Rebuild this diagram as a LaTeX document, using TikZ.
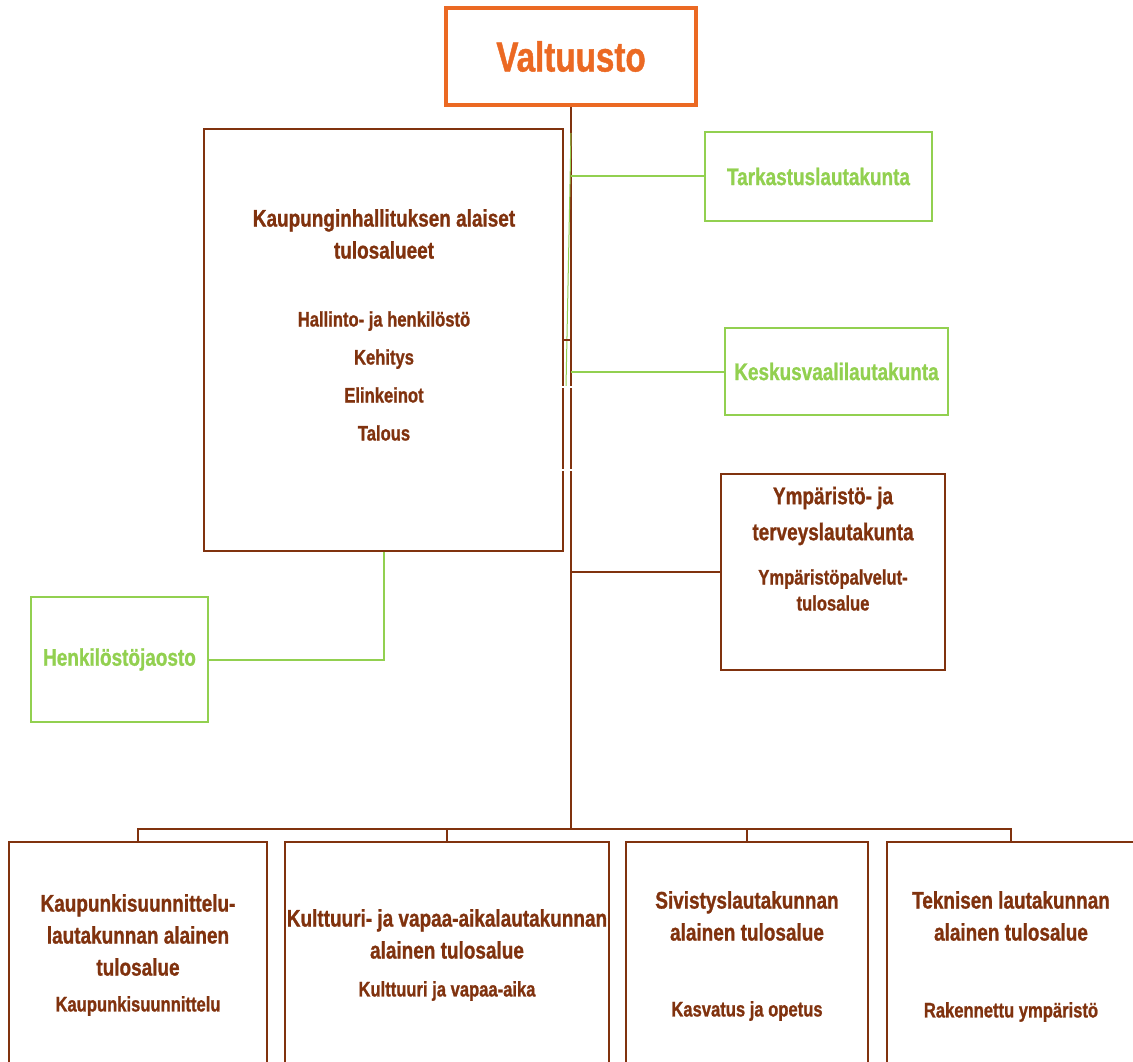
\documentclass[tikz,border=0pt]{standalone}
\usepackage{fontspec}
\setmainfont{Liberation Sans}[FakeStretch=0.79, BoldFeatures={FakeBold=1}]
\usepackage{tikz}
\usetikzlibrary{calc}
\definecolor{ruskea}{RGB}{128,50,14}
\definecolor{oranssi}{RGB}{235,105,35}
\definecolor{vihrea}{RGB}{146,208,80}
\newcommand{\otsikkofont}{\bfseries\fontsize{24}{32}\selectfont}
\newcommand{\alafont}{\bfseries\fontsize{21}{38}\selectfont}

\begin{document}
\begin{tikzpicture}[x=1pt, y=-1pt,
		laatikko/.style={draw=ruskea, line width=2pt, inner sep=0pt},
		vlaatikko/.style={draw=vihrea, line width=2pt, text=vihrea, font=\otsikkofont, inner sep=0pt},
		otsikko/.style={text=ruskea, font=\otsikkofont, align=center, inner sep=0pt},
		alateksti/.style={text=ruskea, font=\alafont, align=center, inner sep=0pt},
		ryhti/.style={ruskea, line width=2pt},
		vyhteys/.style={vihrea, line width=2pt}]
		%%%	Apuviivat
%		\draw [thin, help lines, step=50] (0,0) grid (1133,1062);
		\clip (0,0) rectangle (1133,1062);
		
		%%% Valtuusto
		\node [draw=oranssi, line width=4pt, text=oranssi, minimum width=250, minimum height=97,
			font=\bfseries\fontsize{42}{48}\selectfont] (valt) at (571,56.5) {Valtuusto};
		
		%%% Kaupunginhallitus
		\node [laatikko, minimum width=359, minimum height=422] (kh) at (383.5,340) {};
		\node [otsikko] (khots) at (384,234) {Kaupunginhallituksen alaiset\\tulosalueet};
		\node [alateksti] (khala) at (384,376) {Hallinto- ja henkilöstö\\Kehitys\\Elinkeinot\\Talous};
		\node [vlaatikko, minimum width=177, minimum height=125] (henk) at (119.5,659.5) {Henkilöstöjaosto};
		
		%%% Lautakunnat oikealla
		\node [vlaatikko, minimum width=227, minimum height=89] (tark) at (818.5,176.5) {Tarkastuslautakunta};
		\node [vlaatikko, minimum width=223, minimum height=87] (kesk) at (836.5,371.5) {Keskusvaalilautakunta};
		\node [laatikko, minimum width=224, minimum height=196] (ymp) at (833,572) {};
		\node [otsikko, font=\bfseries\fontsize{24}{36}\selectfont] (ympots) at (833,516) {Ympäristö- ja\\terveyslautakunta};
		\node [alateksti, font=\bfseries\fontsize{21}{26}\selectfont] (ympala) at (833,590) {Ympäristöpalvelut-\\tulosalue};
		
		%%% Alimmat laatikot
		\node [laatikko, minimum width=258, minimum height=238] (b1) at (138,961) {};
		\node [laatikko, minimum width=324, minimum height=238] (b2) at (447,961) {};
		\node [laatikko, minimum width=242, minimum height=238] (b3) at (747,961) {};
		\node [laatikko, minimum width=248, minimum height=238] (b4) at (1011,961) {};
		\node [otsikko] (b1ots) at (138,935) {Kaupunkisuunnittelu-\\lautakunnan alainen\\tulosalue};
		\node [alateksti] (b1ala) at (138,1006) {Kaupunkisuunnittelu};
		\node [otsikko] (b2ots) at (447,934) {Kulttuuri- ja vapaa-aikalautakunnan\\alainen tulosalue};
		\node [alateksti] (b2ala) at (447,991) {Kulttuuri ja vapaa-aika};
		\node [otsikko] (b3ots) at (747,916) {Sivistyslautakunnan\\alainen tulosalue};
		\node [alateksti] (b3ala) at (747,1011) {Kasvatus ja opetus};
		\node [otsikko] (b4ots) at (1011,916) {Teknisen lautakunnan\\alainen tulosalue};
		\node [alateksti] (b4ala) at (1011,1012) {Rakennettu ympäristö};
		
		%%% Yhteydet
		\coordinate (vayla) at (571,829);
		\draw [ryhti] (valt.south) -- (vayla);
		\foreach \b in {b1,b2,b3,b4}
			\draw [ryhti] (vayla) -| (\b.north);
		\draw [vyhteys] (valt.south |- tark.west) -- (tark.west);
		\draw [vyhteys] (valt.south |- kesk.west) -- (kesk.west);
		\draw [ryhti] (valt.south |- ymp.west) -- (ymp.west);
		\draw [vyhteys] (kh.south) |- (henk.east);
		% vino vihrea viiva ja pieni tynka rungon vieressa
		\draw [vihrea, line width=1pt] (571,133) -- (566,387);
		\draw [ryhti] (563,340) -- (571,340);
		\draw [white, line width=2pt] (558,387) -- (576,387);
		\draw [white, line width=2pt] (558,470) -- (576,470);
	\end{tikzpicture}
\end{document}
